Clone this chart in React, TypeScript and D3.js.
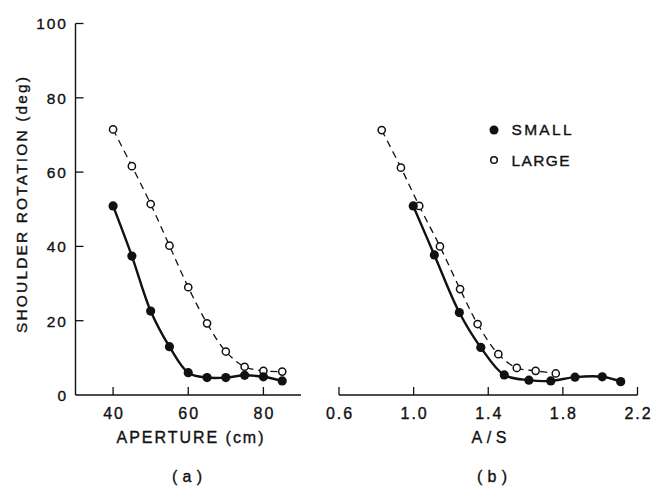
import React from "react";
import * as d3 from "d3";

const apertureSmall = [40, 45, 50, 55, 60, 65, 70, 75, 80, 85];
const rotationSmallA = [50.9, 37.4, 22.6, 13.0, 6.0, 4.7, 4.7, 5.3, 4.9, 3.8];
const apertureLarge = [40, 45, 50, 55, 60, 65, 70, 75, 80, 85];
const rotationLargeA = [71.5, 61.6, 51.4, 40.2, 29.0, 19.3, 11.7, 7.6, 6.5, 6.3];

const asSmall = [0.998, 1.111, 1.245, 1.36, 1.486, 1.618, 1.735, 1.865, 2.011, 2.11];
const rotationSmallB = [50.9, 37.7, 22.2, 12.8, 5.4, 4.0, 3.8, 4.8, 4.9, 3.6];
const asLarge = [0.829, 0.932, 1.03, 1.141, 1.249, 1.343, 1.454, 1.553, 1.654, 1.762];
const rotationLargeB = [71.3, 61.2, 50.9, 40.0, 28.5, 19.1, 11.0, 7.3, 6.5, 5.8];

const yTicks = [0, 20, 40, 60, 80, 100];
const xTicksA = [40, 60, 80];
const xTicksB = [0.6, 1.0, 1.4, 1.8, 2.2];
const xTickLabelsB = ["0.6", "1.0", "1.4", "1.8", "2.2"];
const legendLabels = ["SMALL", "LARGE"];

const FONT = "'Liberation Sans', Arial, sans-serif";

export default function App() {
  const y = d3.scaleLinear().domain([0, 100]).range([395, 23.5]);
  const xa = d3.scaleLinear().domain([30, 90]).range([75.5, 301]);
  const xb = d3.scaleLinear().domain([0.6, 2.2]).range([339, 637.5]);

  const mkLine = (xs: number[], ys: number[], sx: d3.ScaleLinear<number, number>) => {
    const pts: [number, number][] = xs.map((v, i) => [sx(v), y(ys[i])]);
    return d3.line().curve(d3.curveCatmullRom.alpha(0.5))(pts) || "";
  };

  const tick = 8;
  const txt = {
    fontFamily: FONT,
    fill: "#111",
    stroke: "#111",
    strokeWidth: 0.35,
  } as React.CSSProperties;
  const ls = 2;

  const series = (
    xs: number[], ys: number[], sx: d3.ScaleLinear<number, number>, filled: boolean, key: string
  ) => (
    <g key={key}>
      <path
        d={mkLine(xs, ys, sx)}
        fill="none"
        stroke="#111"
        strokeWidth={filled ? 2.4 : 1.3}
        strokeDasharray={filled ? undefined : "7,5"}
      />
      {xs.map((v, i) => (
        <circle
          key={i}
          cx={sx(v)}
          cy={y(ys[i])}
          r={filled ? 4.6 : 3.6}
          fill={filled ? "#111" : "#fff"}
          stroke="#111"
          strokeWidth={filled ? 0 : 1.5}
        />
      ))}
    </g>
  );

  return (
    <svg width={656} height={488} style={{ position: "absolute", left: 0, top: 0, background: "#fff" }}>
      <rect width={656} height={488} fill="#fff" />
      {/* Panel a axes */}
      <line x1={xa(30)} x2={xa(30)} y1={y(0)} y2={y(100)} stroke="#111" strokeWidth={1.4} />
      <line x1={xa(30)} x2={xa(90)} y1={y(0)} y2={y(0)} stroke="#111" strokeWidth={1.4} />
      {yTicks.map((t) => (
        <g key={"yt" + t}>
          {t > 0 && (
            <line x1={xa(30)} x2={xa(30) + tick} y1={y(t)} y2={y(t)} stroke="#111" strokeWidth={1.3} />
          )}
          <text x={66 + ls} y={y(t) + 5.8} textAnchor="end" fontSize={15.5} letterSpacing={ls} style={txt}>
            {t}
          </text>
        </g>
      ))}
      {xTicksA.map((t) => (
        <g key={"xa" + t}>
          <line x1={xa(t)} x2={xa(t)} y1={y(0)} y2={y(0) - tick} stroke="#111" strokeWidth={1.3} />
          <text x={xa(t) + ls / 2} y={418.5} textAnchor="middle" fontSize={16} letterSpacing={ls} style={txt}>
            {t}
          </text>
        </g>
      ))}
      {/* Panel b axis */}
      <line x1={xb(0.6)} x2={xb(2.2)} y1={y(0)} y2={y(0)} stroke="#111" strokeWidth={1.4} />
      {xTicksB.map((t, i) => (
        <g key={"xb" + t}>
          <line x1={xb(t)} x2={xb(t)} y1={y(0)} y2={y(0) - tick} stroke="#111" strokeWidth={1.3} />
          <text x={xb(t) + ls / 2} y={418.5} textAnchor="middle" fontSize={16} letterSpacing={ls} style={txt}>
            {xTickLabelsB[i]}
          </text>
        </g>
      ))}

      {/* Axis titles */}
      <text
        transform="translate(27,205) rotate(-90)"
        textAnchor="middle"
        fontSize={15.5}
        textLength={256}
        lengthAdjust="spacing"
        style={txt}
      >
        SHOULDER ROTATION (deg)
      </text>
      <text x={190} y={443} textAnchor="middle" fontSize={16} textLength={147} lengthAdjust="spacing" style={txt}>
        APERTURE (cm)
      </text>
      <text x={489} y={443} textAnchor="middle" fontSize={16} textLength={35} lengthAdjust="spacing" style={txt}>
        A/S
      </text>
      <text x={187} y={482} textAnchor="middle" fontSize={16} textLength={30} lengthAdjust="spacing" style={txt}>
        (a)
      </text>
      <text x={492} y={482} textAnchor="middle" fontSize={16} textLength={30} lengthAdjust="spacing" style={txt}>
        (b)
      </text>

      {/* Data */}
      {series(apertureLarge, rotationLargeA, xa, false, "la")}
      {series(apertureSmall, rotationSmallA, xa, true, "sa")}
      {series(asLarge, rotationLargeB, xb, false, "lb")}
      {series(asSmall, rotationSmallB, xb, true, "sb")}

      {/* Legend */}
      <circle cx={494} cy={130} r={4.5} fill="#111" />
      <text x={511.5} y={134.5} fontSize={15.5} textLength={60} lengthAdjust="spacing" style={txt}>
        {legendLabels[0]}
      </text>
      <circle cx={494} cy={160} r={3.3} fill="#fff" stroke="#111" strokeWidth={1.5} />
      <text x={511.5} y={165.5} fontSize={15.5} textLength={58} lengthAdjust="spacing" style={txt}>
        {legendLabels[1]}
      </text>
    </svg>
  );
}
